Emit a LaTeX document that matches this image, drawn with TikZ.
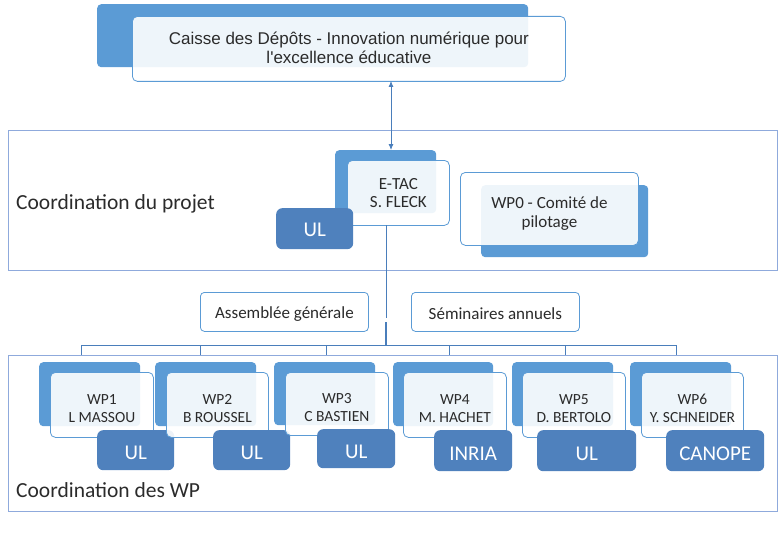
\documentclass[tikz,border=0pt]{standalone}
\usepackage{fontspec}
\setmainfont{Carlito}
\newfontfamily\arialf{Liberation Sans}
\usetikzlibrary{arrows.meta}
\definecolor{bA}{HTML}{5B9BD5}
\definecolor{bD}{HTML}{4F81BD}
\definecolor{secc}{HTML}{8FAADC}
\definecolor{linec}{HTML}{4A7EBB}
\definecolor{txt}{HTML}{2B2B2B}
\newcommand{\mkbox}[7]{\node[#1, minimum width={#5-#3}, minimum height={#6-#4}, anchor=north west] (#2) at (#3,#4) {#7};}
\newcommand{\lowr}[2]{\raisebox{#1}[\height][\depth]{#2}}
\newcommand{\tx}[2]{\lowr{#1}{\begin{tabular}{@{}c@{}}#2\end{tabular}}}
\tikzset{
  backbox/.style={fill=bA, rounded corners=4pt, inner sep=0pt},
  frontbox/.style={fill=white, fill opacity=0.9, text opacity=1, draw=bA, line width=0.8pt, rounded corners=5pt, inner sep=0pt, text=txt},
  orgbox/.style={fill=bD, rounded corners=6pt, inner sep=0pt, text=white, font=\fontsize{21}{24}\selectfont},
  secbox/.style={draw=secc, line width=0.9pt, inner sep=0pt},
  labbox/.style={fill=white, draw=bA, line width=0.8pt, rounded corners=4pt, inner sep=0pt, text=txt, font=\fontsize{17}{20}\selectfont},
  seclabel/.style={anchor=west, inner sep=0pt, text=txt, font=\fontsize{21.5}{24}\selectfont},
  wptext/.style={font=\fontsize{15.5}{18}\selectfont},
  conn/.style={draw=linec, line width=0.8pt},
}
\begin{document}
\begin{tikzpicture}[x=1pt,y=-1pt]
\useasboundingbox (0,0) rectangle (784,559);
% top box
\mkbox{backbox}{topb}{97}{4}{528}{67}{}
\mkbox{frontbox, font=\arialf\fontsize{17}{19}\selectfont}{topf}{132}{16}{565}{81}{\tx{-1pt}{Caisse des Dépôts - Innovation numérique pour\\l'excellence éducative}}
% section 1
\mkbox{secbox}{sec1}{8}{130}{777}{270}{}
\node[seclabel] (lab1) at (16,204) {Coordination du projet};
% E-TAC
\mkbox{backbox}{etacb}{335}{150}{436}{213}{}
\mkbox{frontbox, font=\fontsize{17}{18.5}\selectfont}{etacf}{347}{160}{449}{225}{\tx{-2pt}{E-TAC\\S. FLECK}}
\mkbox{orgbox}{etacul}{276}{208}{353}{249}{\lowr{-1pt}{UL}}
% WP0
\mkbox{backbox}{wp0b}{481}{185}{648}{257}{}
\mkbox{frontbox, font=\fontsize{17}{19}\selectfont}{wp0f}{460}{172}{638}{245}{\tx{-5pt}{WP0 - Comité de\\pilotage}}
% arrow
\coordinate (atop) at (391,81);
\coordinate (abot) at (391,150);
\draw[conn, {Latex[length=6pt,width=5pt]}-{Latex[length=6pt,width=5pt]}] (atop) -- (abot);
% middle labels
\mkbox{labbox}{assem}{200}{292}{368}{331}{\lowr{-2pt}{Assemblée générale}}
\mkbox{labbox}{semin}{411}{292}{579}{331}{\lowr{-2pt}{Séminaires annuels}}
% section 2
\mkbox{secbox}{sec2}{8}{355}{777}{511}{}
\node[seclabel] (lab2) at (16,490) {Coordination des WP};
% hierarchy connectors
\coordinate (v0) at (386,225);
\coordinate (v1) at (386,318);
\coordinate (v2) at (386,322);
\coordinate (hub) at (386,345);
\draw[conn] (v0) -- (v1);
\draw[draw=linec, line width=2.2pt] (v2) -- (hub);
\foreach \i/\x in {1/81,2/200,3/326,4/449,5/565,6/676}{
  \coordinate (t\i) at (\x,345);
  \coordinate (b\i) at (\x,355);
}
\draw[conn] (t1) -- (t6);
\foreach \i in {1,...,6}{ \draw[conn] (t\i) -- (b\i); }
% WP boxes
\mkbox{backbox}{wp1b}{39}{362}{140}{426}{}
\mkbox{frontbox, wptext}{wp1f}{50}{372}{153}{437}{\tx{-4.5pt}{WP1\\L MASSOU}}
\mkbox{orgbox}{wp1o}{97}{430}{174}{470}{\lowr{-3pt}{UL}}
\mkbox{backbox}{wp2b}{155}{362}{256}{426}{}
\mkbox{frontbox, wptext}{wp2f}{166}{372}{268}{437}{\tx{-4.5pt}{WP2\\B ROUSSEL}}
\mkbox{orgbox}{wp2o}{213}{430}{290}{470}{\lowr{-3pt}{UL}}
\mkbox{backbox}{wp3b}{274}{362}{375}{425}{}
\mkbox{frontbox, wptext}{wp3f}{285}{372}{388}{435}{\tx{-4.5pt}{WP3\\C BASTIEN}}
\mkbox{orgbox}{wp3o}{317}{429}{395}{468}{\lowr{-3pt}{UL}}
\mkbox{backbox}{wp4b}{393}{362}{493}{426}{}
\mkbox{frontbox, wptext}{wp4f}{403}{372}{506}{437}{\tx{-4.5pt}{WP4\\M. HACHET}}
\mkbox{orgbox}{wp4o}{434}{430}{512}{471}{\lowr{-3pt}{INRIA}}
\mkbox{backbox}{wp5b}{512}{362}{613}{426}{}
\mkbox{frontbox, wptext}{wp5f}{522}{372}{625}{437}{\tx{-4.5pt}{WP5\\D. BERTOLO}}
\mkbox{orgbox}{wp5o}{537}{430}{636}{471}{\lowr{-3pt}{UL}}
\mkbox{backbox}{wp6b}{630}{362}{731}{426}{}
\mkbox{frontbox, wptext}{wp6f}{641}{372}{743}{437}{\tx{-4.5pt}{WP6\\Y. SCHNEIDER}}
\mkbox{orgbox}{wp6o}{666}{430}{764}{471}{\lowr{-3pt}{CANOPE}}
\end{tikzpicture}
\end{document}
